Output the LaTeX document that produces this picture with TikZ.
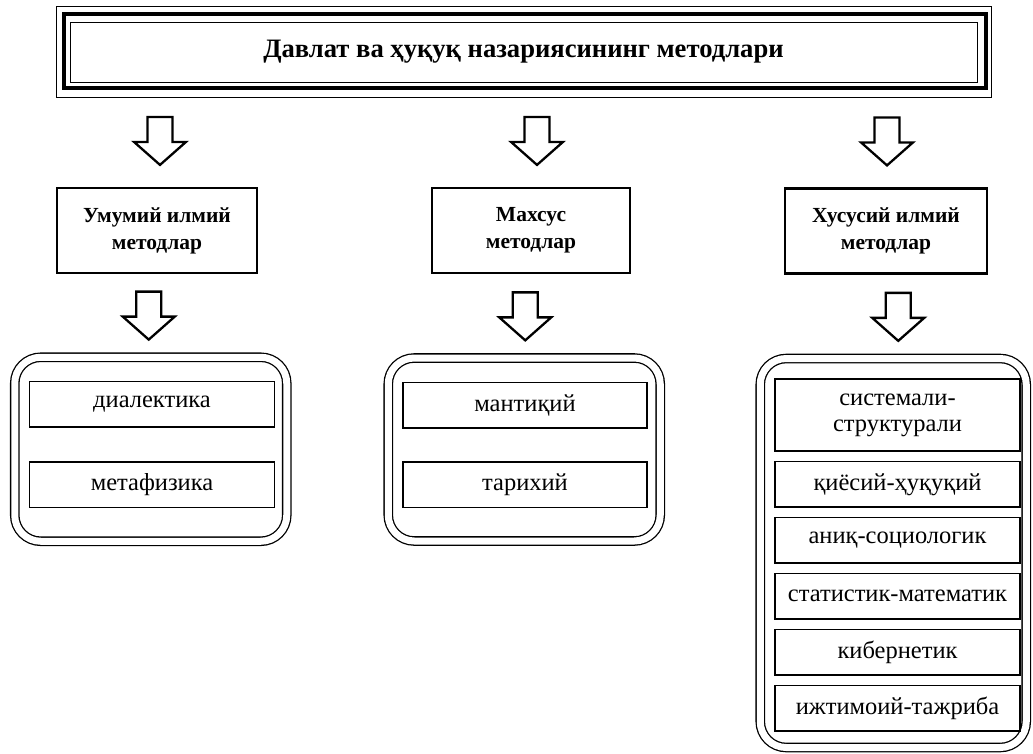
\documentclass[tikz,border=0pt]{standalone}
\usepackage{fontspec}
\setmainfont{Liberation Serif}
\usetikzlibrary{positioning,calc}

\begin{document}
\begin{tikzpicture}[x=1pt, y=-1pt,
	headbox/.style={draw, line width=2.2pt, minimum width=200pt, minimum height=85pt, align=center, font=\bfseries\fontsize{21.5}{27}\selectfont},
	item/.style={draw, line width=1.5pt, outer sep=0pt, minimum width=245pt, minimum height=45.5pt, inner sep=2pt, align=center, font=\fontsize{24.5}{26}\selectfont},
	grp/.style={draw, double, double distance=7pt, line width=1.3pt, rounded corners=26pt},
	downarr/.pic={\draw[line width=2.3pt, line join=miter] (-12.5,-24) -- (12.5,-24) -- (12.5,1) -- (26,1) -- (0,24) -- (-26,1) -- (-12.5,1) -- cycle;}]
		\useasboundingbox (0,0) rectangle (1033,753);
		\node[draw, line width=1pt, minimum width=907pt, minimum height=60pt, font=\bfseries\fontsize{26.6}{30}\selectfont] (title) at (523.5,52) {Давлат ва ҳуқуқ назариясининг методлари};
		\draw[line width=4pt] ([shift={(-6,-8)}]title.north west) rectangle ([shift={(8,5)}]title.south east);
		\draw[line width=1pt] ([shift={(-13,-15)}]title.north west) rectangle ([shift={(14,15)}]title.south east);

		\node[headbox] (hd1) at (157,230.5) {Умумий илмий\\методлар};
		\node[headbox, minimum width=198pt] (hd2) at (531,230.5) {Махсус\\методлар};
		\node[headbox, minimum width=202pt] (hd3) at (886,231) {Хусусий илмий\\методлар};

		\node[grp, minimum width=272pt, minimum height=184pt] (g1) at (150.75,449.25) {};
		\node[grp, minimum width=272pt, minimum height=183pt] (g2) at (524.25,449.5) {};
		\node[grp, minimum width=266pt, minimum height=389pt] (g3) at (893.25,553) {};

		\node[item] (l1) at (152,404) {диалектика};
		\node[item, below=35pt of l1] (l2) {метафизика};
		\node[item, minimum width=244pt] (m1) at (525,405) {мантиқий};
		\node[item, minimum width=244pt, below=34pt of m1] (m2) {тарихий};
		\node[item, minimum height=72pt] (r1) at (897.5,415) {системали-\\структурали};
		\node[item, below=10.5pt of r1] (r2) {қиёсий-ҳуқуқий};
		\node[item, below=10.5pt of r2] (r3) {аниқ-социологик};
		\node[item, below=10.5pt of r3] (r4) {статистик-математик};
		\node[item, below=10.5pt of r4] (r5) {кибернетик};
		\node[item, below=10.5pt of r5] (r6) {ижтимоий-тажриба};

		\pic at ($(hd1.north)+(3,-46)$) {downarr};
		\pic at ($(hd2.north)+(6,-46)$) {downarr};
		\pic at ($(hd3.north)+(1,-46)$) {downarr};
		\pic at ($(g1.north)+(-2,-41)$) {downarr};
		\pic at ($(g2.north)+(1,-41)$) {downarr};
		\pic at ($(g3.north)+(5,-41)$) {downarr};
	\end{tikzpicture}
\end{document}
